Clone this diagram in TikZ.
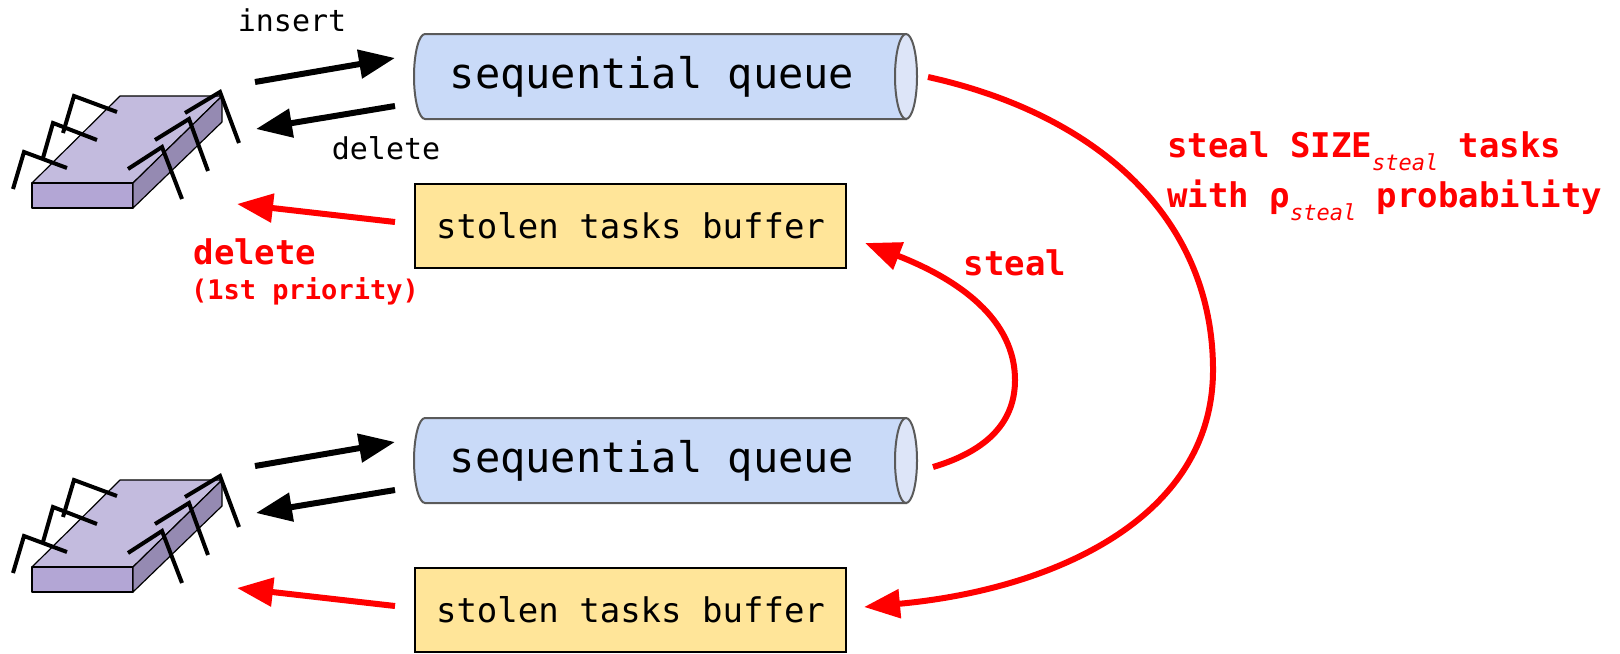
\documentclass[tikz,border=0pt]{standalone}
\usepackage{fontspec}
\setmonofont{DejaVu Sans Mono}
\usetikzlibrary{arrows.meta}

\definecolor{qfill}{HTML}{C9DAF8}
\definecolor{qend}{HTML}{DDE5F8}
\definecolor{qline}{HTML}{5A5A5A}
\definecolor{bfill}{HTML}{FFE599}
\definecolor{chiptop}{HTML}{C3BBDE}
\definecolor{chipfront}{HTML}{B3A6D5}
\definecolor{chipside}{HTML}{958AB2}
\definecolor{hot}{HTML}{FF0000}

\tikzset{
  fat/.style={line width=3pt, -{Triangle[length=18pt,width=14pt]}},
  blackarrow/.style={fat, draw=black},
  redarrow/.style={fat, draw=hot},
  pinline/.style={line width=2pt, line cap=butt, line join=miter},
  chipedge/.style={draw=black, line width=0.6pt, line join=round},
  qtext/.style={font=\ttfamily\fontsize{21pt}{25pt}\selectfont, inner sep=0pt},
  buffer/.style={draw=black, line width=1pt, fill=bfill, minimum width=215.5pt,
    minimum height=42pt, inner sep=0pt, font=\ttfamily\fontsize{17pt}{20pt}\selectfont},
  lbl/.style={font=\ttfamily\fontsize{15pt}{18pt}\selectfont, inner sep=0pt},
  redlbl/.style={text=hot, font=\ttfamily\bfseries\fontsize{17pt}{20pt}\selectfont, inner sep=0pt},
  redsmall/.style={text=hot, font=\ttfamily\bfseries\fontsize{13.5pt}{16pt}\selectfont, inner sep=0pt},
}

% subscript set smaller, in italics, below the baseline
\newcommand\lowsub[1]{\raisebox{-6.5pt}{\mdseries\itshape\fontsize{11pt}{12pt}\selectfont #1}}

% a horizontal cylinder holding the label "sequential queue"
\newcommand\seqqueue[2]{%
  \filldraw[fill=qfill, draw=qline, line width=1pt]
    (425,#2-42.5) -- (906,#2-42.5) -- (906,#2+42.5) -- (425,#2+42.5)
    arc[start angle=270, end angle=90, x radius=5.5pt, y radius=21.25pt] -- cycle;
  \filldraw[fill=qend, draw=qline, line width=1pt]
    (906,#2) ellipse[x radius=5.5pt, y radius=21.25pt];
  \node[qtext] (#1) at (652,#2) {sequential queue};
}

% a processor chip with its pins
\newcommand\cpuchip[1]{%
  \begin{scope}[shift={(0,#1)}]
    \filldraw[chipedge, fill=chiptop] (32,183) -- (120,96) -- (222,96) -- (133,183) -- cycle;
    \filldraw[chipedge, fill=chipfront] (32,183) -- (133,183) -- (133,208) -- (32,208) -- cycle;
    \filldraw[chipedge, fill=chipside] (133,183) -- (222,96) -- (222,122) -- (133,208) -- cycle;
    \draw[pinline] (117,112) -- (74,96) -- (63,133);
    \draw[pinline] (97,140) -- (53,123) -- (43,158);
    \draw[pinline] (67,168) -- (24,152) -- (13,189);
    \draw[pinline] (128,169) -- (162,147) -- (182,199);
    \draw[pinline] (155,140) -- (189,119) -- (208,171);
    \draw[pinline] (185,113) -- (220,92) -- (239,143);
  \end{scope}
}

\begin{document}
\begin{tikzpicture}[x=0.5pt, y=-0.5pt]
  \useasboundingbox (0,0) rectangle (1620,653);

  % upper worker
  \cpuchip{0}
  \seqqueue{q1}{76.5}
  \node[buffer] (b1) at (630.5,226) {stolen tasks buffer};

  % lower worker
  \cpuchip{384}
  \seqqueue{q2}{460.5}
  \node[buffer] (b2) at (630.5,610) {stolen tasks buffer};

  % arrow ends next to the chips and the queues
  \coordinate (ins1a) at (255,82);   \coordinate (ins1b) at (395,58);
  \coordinate (del1a) at (395,106);  \coordinate (del1b) at (256,129);
  \coordinate (red1a) at (395,222);  \coordinate (red1b) at (237,204);
  \coordinate (ins2a) at (255,466);  \coordinate (ins2b) at (395,442);
  \coordinate (del2a) at (395,490);  \coordinate (del2b) at (256,513);
  \coordinate (red2a) at (395,606);  \coordinate (red2b) at (237,588);
  \coordinate (big1) at (928,77);    \coordinate (big2) at (864,607);
  \coordinate (stl1) at (933,467);   \coordinate (stl2) at (865,243);

  \draw[blackarrow] (ins1a) -- (ins1b);
  \draw[blackarrow] (del1a) -- (del1b);
  \draw[redarrow] (red1a) -- (red1b);
  \draw[blackarrow] (ins2a) -- (ins2b);
  \draw[blackarrow] (del2a) -- (del2b);
  \draw[redarrow] (red2a) -- (red2b);

  % stealing between the two workers
  \draw[redarrow] (big1) .. controls (1100,115) and (1213,220) .. (1213,370)
                         .. controls (1213,520) and (1050,590) .. (big2);
  \draw[redarrow] (stl1) .. controls (990,450) and (1015,420) .. (1015,380)
                         .. controls (1015,320) and (960,280) .. (stl2);

  % labels
  \node[lbl] (tins) at (292,20) {insert};
  \node[lbl] (tdel) at (386,148) {delete};
  \node[redlbl] (trdel) at (255,252) {delete};
  \node[redsmall] (tprio) at (305,291) {(1st priority)};
  \node[redlbl] (tsteal) at (1015,263) {steal};
  \node[redlbl, anchor=base west] (tbig1) at (1167,157) {steal SIZE\lowsub{steal} tasks};
  \node[redlbl, anchor=base west] (tbig2) at (1167,207) {with ρ\lowsub{steal} probability};
\end{tikzpicture}
\end{document}
